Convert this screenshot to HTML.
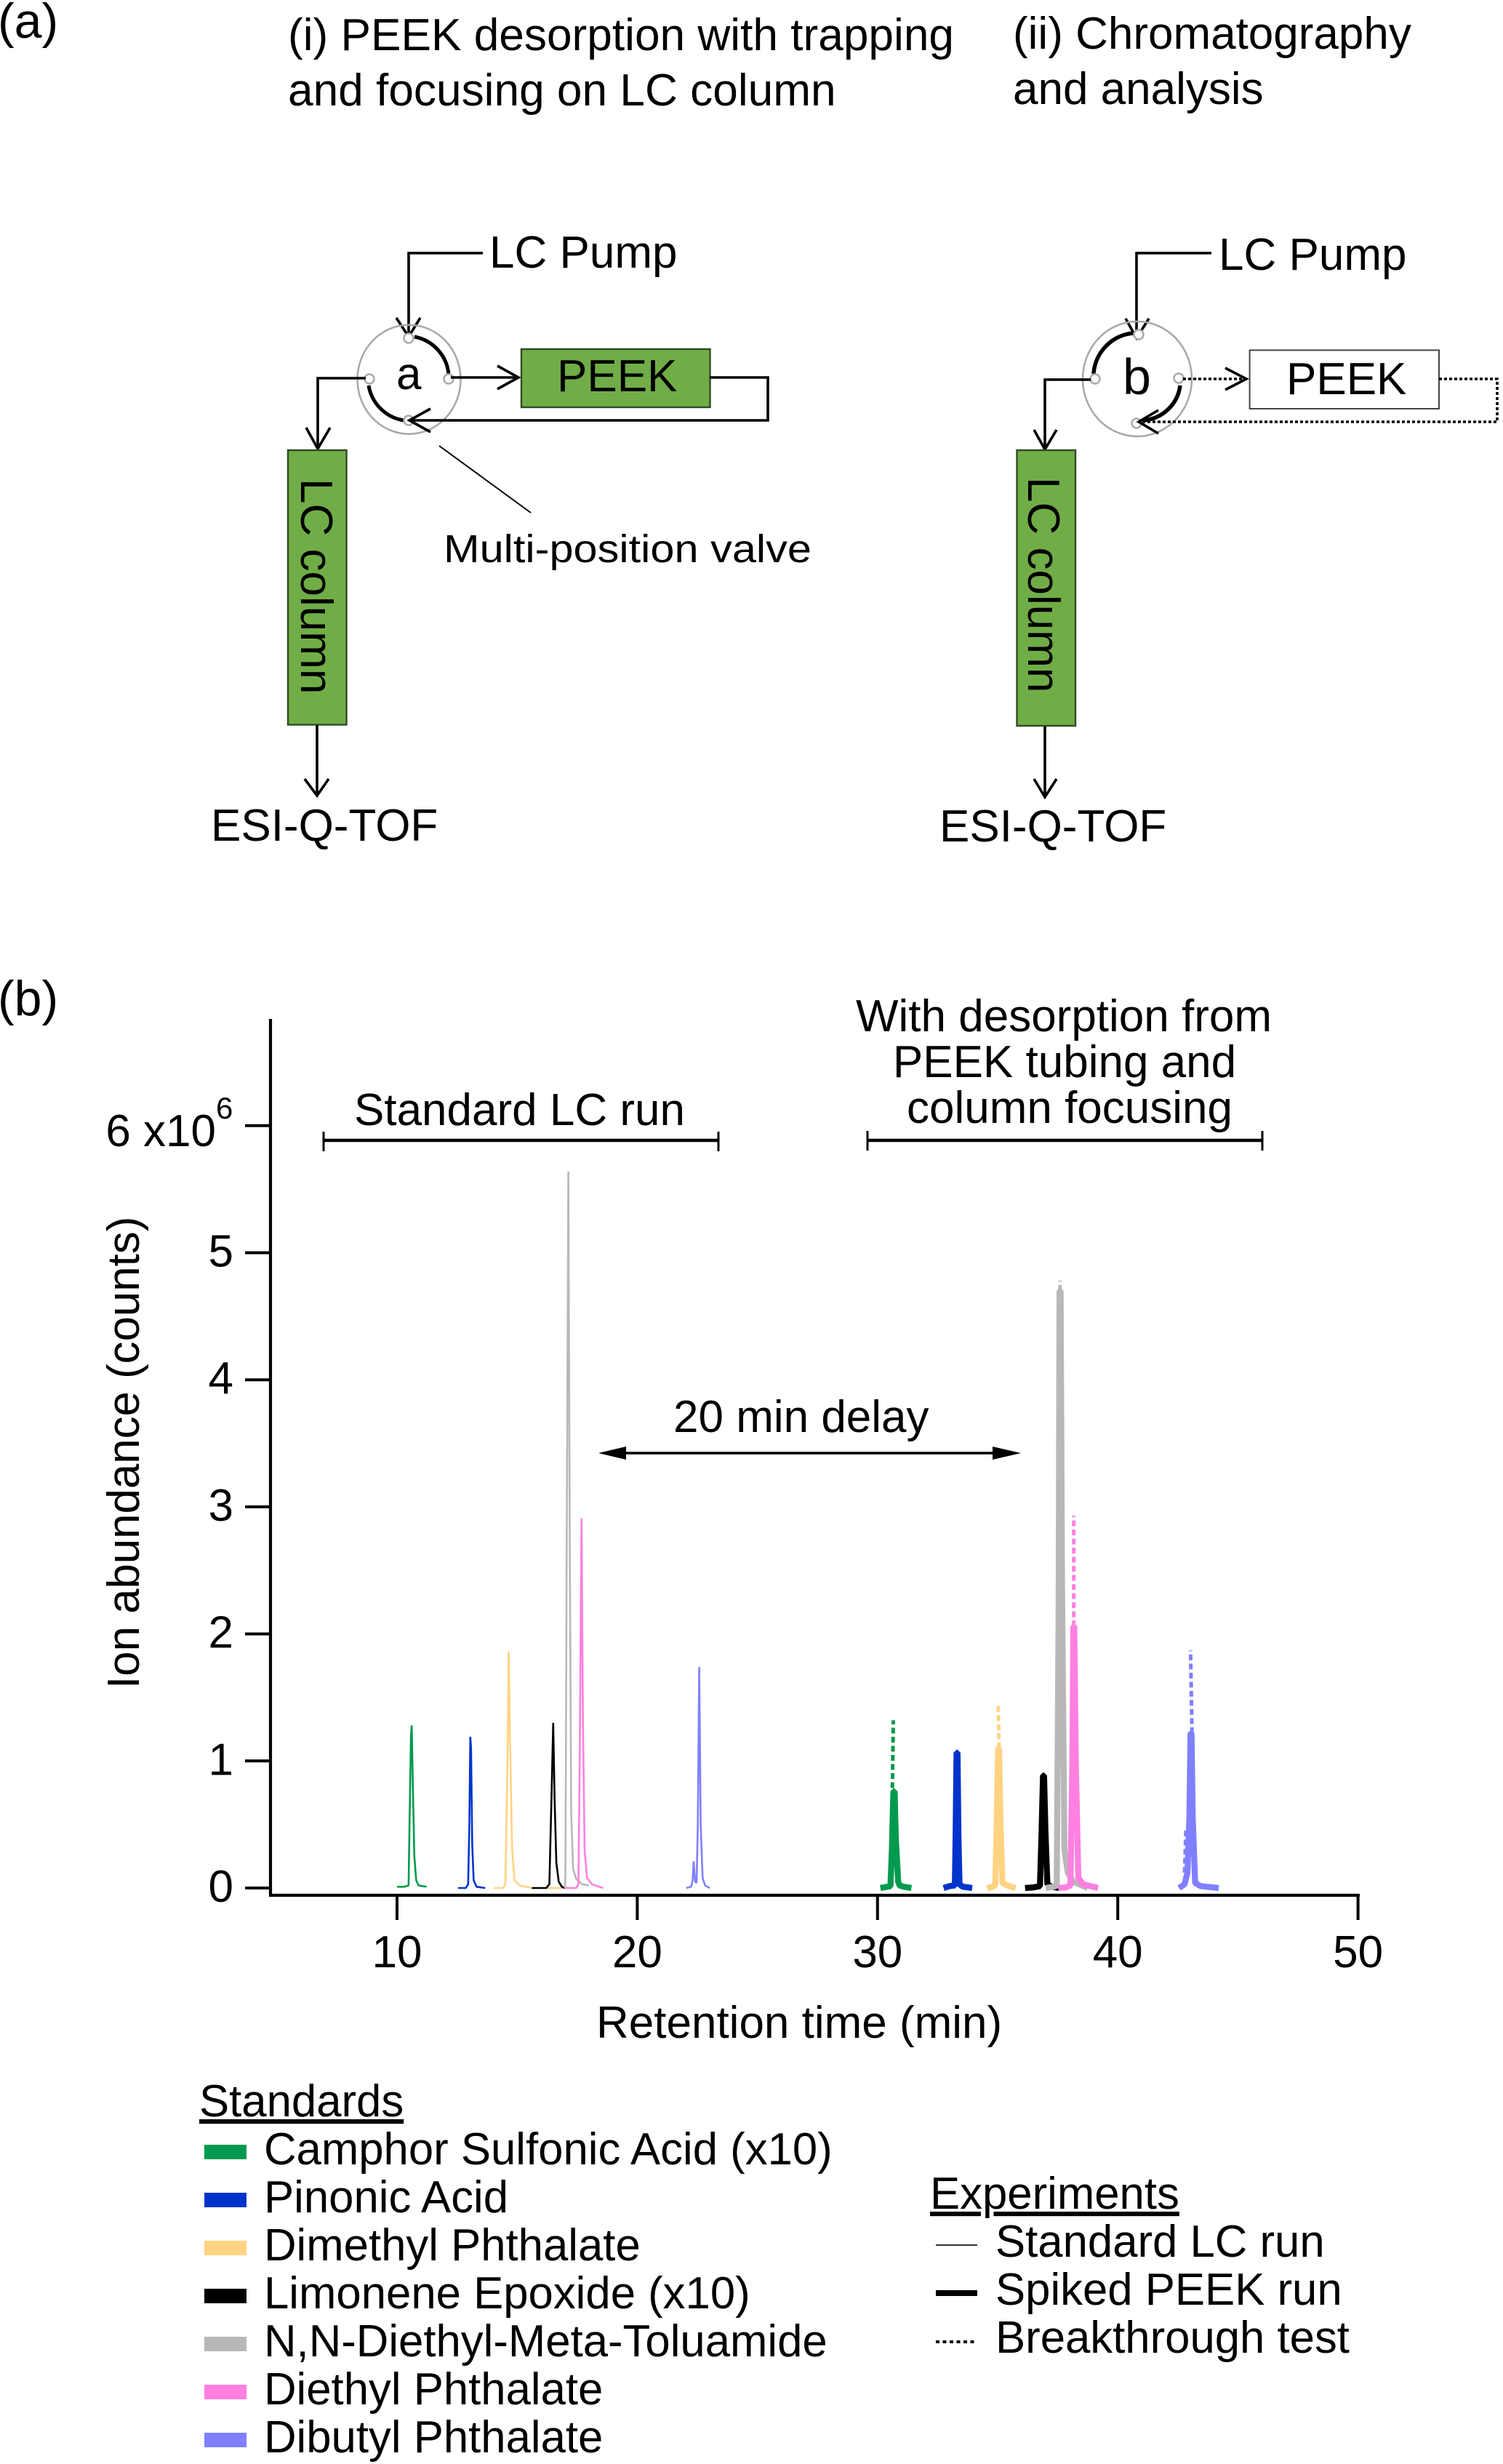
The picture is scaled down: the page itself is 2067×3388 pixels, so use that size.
<!DOCTYPE html>
<html lang="en">
<head>
<meta charset="utf-8">
<title>PEEK desorption and chromatography</title>
<style>
html,body{margin:0;padding:0;background:#fff;width:2067px;height:3388px;overflow:hidden}
svg{display:block}
text{font-family:"Liberation Sans",Arial,sans-serif;font-size:62px;fill:#000}
#legend-standards text,#legend-experiments text{font-size:61.7px}
</style>
</head>
<body>
<svg id="fig" xmlns="http://www.w3.org/2000/svg" width="2067" height="3388" viewBox="0 0 2067 3388">
<rect x="0" y="0" width="2067" height="3388" fill="#fff"/>

<g id="panel-a" fill="none" stroke="#000" stroke-width="3.6">
  <text x="-3" y="52" stroke="none" style="font-size:68px">(a)</text>
  <text x="396" y="69" stroke="none" style="font-size:62.2px">(i) PEEK desorption with trapping</text>
  <text x="396" y="145" stroke="none" style="font-size:62.2px">and focusing on LC column</text>
  <text x="1393" y="67" stroke="none">(ii) Chromatography</text>
  <text x="1393" y="143" stroke="none">and analysis</text>

  <!-- left valve diagram -->
  <g>
    <text x="673" y="368" stroke="none">LC Pump</text>
    <polyline points="664,348 562,348 562,463"/>
    <polyline points="545,437 562,463 578,437"/>
    <ellipse cx="562.5" cy="521.7" rx="71" ry="75" stroke="#a8a8a8" stroke-width="2.5"/>
    <path d="M570 463 A58 58 0 0 1 617 515" stroke-width="5"/>
    <path d="M507 530 A58 58 0 0 0 555 578" stroke-width="5"/>
    <g fill="#fff" stroke="#aaa" stroke-width="2.5">
      <circle cx="562" cy="465" r="6.5"/><circle cx="617" cy="521" r="6.5"/><circle cx="508" cy="521" r="6.5"/><circle cx="562" cy="578" r="6.5"/>
    </g>
    <text x="545" y="535" stroke="none">a</text>
    <polyline points="620,519 713,519"/>
    <polyline points="684,503 713,519 684,535"/>
    <rect x="717" y="480" width="259.5" height="80" fill="#70ad47" stroke="#2f4a20" stroke-width="2.4"/>
    <text x="766" y="538" stroke="none">PEEK</text>
    <polyline points="976,519 1056,519 1056,578 563,578"/>
    <polyline points="592,562 563,578 592,594"/>
    <polyline points="503,520 437,520 437,617"/>
    <polyline points="421,588 437,617 454,588"/>
    <rect x="396" y="619" width="80.5" height="377.5" fill="#70ad47" stroke="#2f4a20" stroke-width="2.4"/>
    <text transform="translate(414,658) rotate(90)" stroke="none">LC column</text>
    <polyline points="436,997 436,1094"/>
    <polyline points="419,1071 436,1094 452,1071"/>
    <text x="290" y="1156" stroke="none">ESI-Q-TOF</text>
    <line x1="604" y1="613" x2="730" y2="705" stroke-width="2"/>
    <text x="610" y="773" stroke="none" style="font-size:54px" textLength="506" lengthAdjust="spacingAndGlyphs">Multi-position valve</text>
  </g>

  <!-- right valve diagram -->
  <g>
    <text x="1676" y="371" stroke="none">LC Pump</text>
    <polyline points="1666,348 1563,348 1563,465"/>
    <polyline points="1548,438 1563,465 1580,438"/>
    <ellipse cx="1564" cy="521" rx="75" ry="79" stroke="#a8a8a8" stroke-width="2.5"/>
    <path d="M1504 514 A60 60 0 0 1 1559 458" stroke-width="5.5"/>
    <path d="M1623 530 A55 55 0 0 1 1572 578" stroke-width="5.5"/>
    <g fill="#fff" stroke="#aaa" stroke-width="2.5">
      <circle cx="1566" cy="460" r="6.5"/><circle cx="1621" cy="520" r="6.5"/><circle cx="1506" cy="521" r="6.5"/><circle cx="1563" cy="582" r="6.5"/>
    </g>
    <text x="1544" y="542" stroke="none" style="font-size:70px">b</text>
    <polyline points="1627,521 1712,521" stroke-dasharray="4 3"/>
    <polyline points="1685,506 1714,521 1685,536"/>
    <rect x="1718.6" y="481.5" width="260.4" height="80.5" fill="#fff" stroke="#444" stroke-width="2"/>
    <text x="1769" y="542" stroke="none">PEEK</text>
    <polyline points="1979,521 2059,521 2059,580 1568,580" stroke-dasharray="4 3"/>
    <polyline points="1593,564 1566,580 1593,596"/>
    <polyline points="1500,522 1437,522 1437,618"/>
    <polyline points="1422,591 1437,618 1453,591"/>
    <rect x="1398.5" y="619" width="80.5" height="379" fill="#70ad47" stroke="#2f4a20" stroke-width="2.4"/>
    <text transform="translate(1414,656) rotate(90)" stroke="none">LC column</text>
    <polyline points="1437,999 1437,1096"/>
    <polyline points="1422,1071 1437,1096 1453,1071"/>
    <text x="1292" y="1157" stroke="none">ESI-Q-TOF</text>
  </g>
</g>

<g id="panel-b">
  <text x="-3" y="1396" style="font-size:68px">(b)</text>
  <g id="traces"></g>
  <g id="axes" stroke="#000" stroke-width="4.2" fill="none">
    <line x1="372" y1="1401" x2="372" y2="2608"/>
    <line x1="370" y1="2606" x2="1870" y2="2606"/>
  </g>
  <g id="ticks"></g>
  <text x="820" y="2802">Retention time (min)</text>
  <text transform="translate(191,2322) rotate(-90)" style="font-size:61.8px">Ion abundance (counts)</text>
  <text x="297" y="1538" style="font-size:42px">6</text>

  <g stroke="#000" fill="none">
    <line x1="445" y1="1568" x2="988" y2="1568" stroke-width="4.5"/>
    <line x1="445" y1="1556" x2="445" y2="1583" stroke-width="3"/>
    <line x1="988" y1="1556" x2="988" y2="1583" stroke-width="3"/>
  </g>
  <text x="487" y="1547">Standard LC run</text>

  <g stroke="#000" fill="none">
    <line x1="1193" y1="1568" x2="1736" y2="1568" stroke-width="4.5"/>
    <line x1="1193" y1="1555" x2="1193" y2="1582" stroke-width="3"/>
    <line x1="1736" y1="1555" x2="1736" y2="1582" stroke-width="3"/>
  </g>
  <text x="1463" y="1418" text-anchor="middle">With desorption from</text>
  <text x="1464" y="1481" text-anchor="middle">PEEK tubing and</text>
  <text x="1471" y="1544" text-anchor="middle">column focusing</text>

  <g>
    <line x1="855" y1="1998" x2="1370" y2="1998" stroke="#000" stroke-width="3.5"/>
    <polygon points="823,1998 861,1989 861,2007" fill="#000"/>
    <polygon points="1404,1998 1365,1989 1365,2007" fill="#000"/>
  </g>
  <text x="926" y="1969">20 min delay</text>

  <g id="legend-standards">
    <text x="274" y="2910" text-decoration="underline">Standards</text>
    <rect x="281" y="2949" width="58" height="20" fill="#009a4e"/>
    <text x="363" y="2976">Camphor Sulfonic Acid (x10)</text>
    <rect x="281" y="3015" width="58" height="20" fill="#0033cc"/>
    <text x="363" y="3042">Pinonic Acid</text>
    <rect x="281" y="3081" width="58" height="20" fill="#ffd382"/>
    <text x="363" y="3108">Dimethyl Phthalate</text>
    <rect x="281" y="3147" width="58" height="20" fill="#000"/>
    <text x="363" y="3174">Limonene Epoxide (x10)</text>
    <rect x="281" y="3213" width="58" height="20" fill="#b8b8b8"/>
    <text x="363" y="3240">N,N-Diethyl-Meta-Toluamide</text>
    <rect x="281" y="3279" width="58" height="20" fill="#ff80e0"/>
    <text x="363" y="3306">Diethyl Phthalate</text>
    <rect x="281" y="3345" width="58" height="20" fill="#8080ff"/>
    <text x="363" y="3372">Dibutyl Phthalate</text>
  </g>
  <g id="legend-experiments">
    <text x="1279" y="3037" text-decoration="underline">Experiments</text>
    <line x1="1287" y1="3087" x2="1344" y2="3087" stroke="#333" stroke-width="2"/>
    <text x="1369" y="3103">Standard LC run</text>
    <line x1="1287" y1="3153" x2="1344" y2="3153" stroke="#000" stroke-width="8"/>
    <text x="1369" y="3169">Spiked PEEK run</text>
    <line x1="1287" y1="3220" x2="1344" y2="3220" stroke="#000" stroke-width="4" stroke-dasharray="5 4.5"/>
    <text x="1369" y="3235">Breakthrough test</text>
  </g>
</g>
</svg>

<script>
// Axis tick values and labels
const xTicks = [10, 20, 30, 40, 50];
const yTicks = [0, 1, 2, 3, 4, 5, 6];
const yTickLabels = ['0', '1', '2', '3', '4', '5', '6 x10'];

// Standard LC run: retention time (min) and abundance (x10^6 counts)
const camphorStdT = [10.0, 10.3, 10.48, 10.52, 10.58, 10.61, 10.66, 10.72, 10.8, 10.9, 11.23];
const camphorStdV = [0.01, 0.01, 0.02, 0.5, 1.2, 1.28, 0.8, 0.25, 0.06, 0.02, 0.01];
const pinonicStdT = [12.54, 12.86, 12.96, 13.01, 13.05, 13.08, 13.13, 13.19, 13.31, 13.67];
const pinonicStdV = [0.0, 0.0, 0.03, 0.5, 1.19, 1.1, 0.35, 0.06, 0.01, 0.0];
const dimethylStdT = [14.03, 14.41, 14.51, 14.59, 14.65, 14.71, 14.79, 14.89, 15.11, 15.61, 16.98];
const dimethylStdV = [0.0, 0.0, 0.03, 0.9, 1.86, 1.1, 0.3, 0.06, 0.02, 0.0, 0.0];
const limoneneStdT = [15.61, 16.21, 16.34, 16.43, 16.5, 16.56, 16.63, 16.73, 16.86, 16.98];
const limoneneStdV = [0.0, 0.0, 0.03, 0.7, 1.3, 0.7, 0.2, 0.05, 0.01, 0.0];
const deetStdT = [16.99, 17.01, 17.06, 17.13, 17.19, 17.25, 17.33, 17.46, 17.71, 17.99];
const deetStdV = [0.0, 0.1, 2.6, 5.64, 2.7, 0.6, 0.15, 0.07, 0.03, 0.02];
const diethylStdT = [16.98, 17.46, 17.55, 17.61, 17.68, 17.74, 17.81, 17.91, 18.11, 18.58];
const diethylStdV = [0.0, 0.0, 0.03, 1.1, 2.91, 1.3, 0.3, 0.08, 0.03, 0.0];
const dibutylStdT = [22.04, 22.24, 22.3, 22.35, 22.41, 22.47, 22.52, 22.58, 22.64, 22.72, 22.82, 23.02];
const dibutylStdV = [0.0, 0.01, 0.05, 0.21, 0.05, 0.04, 0.5, 1.74, 0.5, 0.08, 0.02, 0.0];

// Spiked PEEK run
const camphorSpkT = [30.12, 30.4, 30.54, 30.6, 30.66, 30.71, 30.76, 30.86, 30.92, 31.1, 31.41];
const camphorSpkV = [0.0, 0.01, 0.015, 0.3, 0.76, 0.76, 0.4, 0.05, 0.02, 0.01, 0.0];
const pinonicSpkT = [32.75, 33.0, 33.22, 33.25, 33.29, 33.33, 33.37, 33.41, 33.55, 33.94];
const pinonicSpkV = [0.0, 0.015, 0.02, 0.4, 1.065, 1.065, 0.4, 0.03, 0.01, 0.0];
const dimethylSpkT = [34.56, 34.8, 34.9, 34.96, 35.02, 35.06, 35.12, 35.2, 35.4, 35.75];
const dimethylSpkV = [0.0, 0.01, 0.02, 0.5, 1.1, 1.1, 0.5, 0.04, 0.02, 0.0];
const limoneneSpkT = [36.14, 36.5, 36.76, 36.83, 36.89, 36.93, 36.99, 37.07, 37.25, 37.58];
const limoneneSpkV = [0.0, 0.005, 0.015, 0.45, 0.885, 0.885, 0.45, 0.03, 0.01, 0.0];
const deetSpkT = [37.0, 37.33, 37.46, 37.54, 37.58, 37.62, 37.68, 37.78, 37.92, 38.15, 38.75];
const deetSpkV = [0.0, 0.01, 0.02, 2.2, 4.7, 4.7, 2.4, 0.3, 0.12, 0.05, 0.0];
const diethylSpkT = [37.52, 37.85, 38.03, 38.11, 38.15, 38.19, 38.25, 38.36, 38.55, 39.18];
const diethylSpkV = [0.0, 0.005, 0.02, 1.0, 2.06, 2.06, 1.0, 0.08, 0.03, 0.0];
const dibutylSpkT = [42.55, 42.78, 42.9, 42.98, 43.03, 43.07, 43.12, 43.22, 43.45, 44.2];
const dibutylSpkV = [0.0, 0.03, 0.12, 0.55, 1.22, 1.22, 0.55, 0.04, 0.015, 0.0];

// Breakthrough test (rising edge, visible above the spiked run)
const camphorBrkT = [30.53, 30.6, 30.66];
const camphorBrkV = [0.0, 0.55, 1.32];
const dimethylBrkT = [35.06, 35.02];
const dimethylBrkV = [1.1, 1.45];
const deetBrkT = [37.6, 37.6];
const deetBrkV = [4.7, 4.78];
const diethylBrkT = [38.17, 38.17];
const diethylBrkV = [2.06, 2.93];
const dibutylBrkT = [43.09, 43.03];
const dibutylBrkV = [1.22, 1.87];
const dibutylShoulderT = [42.78, 42.84];
const dibutylShoulderV = [0.12, 0.47];

const compoundColors = {camphor:'#009a4e', pinonic:'#0033cc', dimethyl:'#ffd382', limonene:'#000000', deet:'#b8b8b8', diethyl:'#ff80e0', dibutyl:'#8080ff'};

function xScale(t) { return 546 + (t - 10) * 33.04; }
function yScale(v) { return 2596 - v * 174.7; }

const SVG_NS = 'http://www.w3.org/2000/svg';
const tracesLayer = document.getElementById('traces');
const ticksLayer = document.getElementById('ticks');

function drawTrace(ts, vs, compound, kind, name) {
  const el = document.createElementNS(SVG_NS, 'polyline');
  el.setAttribute('points', ts.map(function (t, i) { return xScale(t).toFixed(1) + ',' + yScale(vs[i]).toFixed(1); }).join(' '));
  el.setAttribute('fill', 'none');
  el.setAttribute('stroke', compoundColors[compound]);
  el.setAttribute('stroke-linejoin', 'bevel');
  if (kind === 'standard') {
    el.setAttribute('stroke-width', '2.6');
  } else if (kind === 'spiked') {
    el.setAttribute('stroke-width', '8.3');
  } else {
    el.setAttribute('stroke-width', '5');
    el.setAttribute('stroke-dasharray', '8 4.5');
  }
  
  
  tracesLayer.appendChild(el);
}

drawTrace(dimethylStdT, dimethylStdV, 'dimethyl', 'standard', 'dimethyl-standard-trace');
drawTrace(camphorStdT, camphorStdV, 'camphor', 'standard', 'camphor-standard-trace');
drawTrace(pinonicStdT, pinonicStdV, 'pinonic', 'standard', 'pinonic-standard-trace');
drawTrace(limoneneStdT, limoneneStdV, 'limonene', 'standard', 'limonene-standard-trace');
drawTrace(deetStdT, deetStdV, 'deet', 'standard', 'deet-standard-trace');
drawTrace(diethylStdT, diethylStdV, 'diethyl', 'standard', 'diethyl-standard-trace');
drawTrace(dibutylStdT, dibutylStdV, 'dibutyl', 'standard', 'dibutyl-standard-trace');

drawTrace(camphorBrkT, camphorBrkV, 'camphor', 'breakthrough', 'camphor-breakthrough-trace');
drawTrace(dimethylBrkT, dimethylBrkV, 'dimethyl', 'breakthrough', 'dimethyl-breakthrough-trace');
drawTrace(deetBrkT, deetBrkV, 'deet', 'breakthrough', 'deet-breakthrough-trace');
drawTrace(diethylBrkT, diethylBrkV, 'diethyl', 'breakthrough', 'diethyl-breakthrough-trace');
drawTrace(dibutylBrkT, dibutylBrkV, 'dibutyl', 'breakthrough', 'dibutyl-breakthrough-trace');

drawTrace(camphorSpkT, camphorSpkV, 'camphor', 'spiked', 'camphor-spiked-trace');
drawTrace(pinonicSpkT, pinonicSpkV, 'pinonic', 'spiked', 'pinonic-spiked-trace');
drawTrace(dimethylSpkT, dimethylSpkV, 'dimethyl', 'spiked', 'dimethyl-spiked-trace');
drawTrace(limoneneSpkT, limoneneSpkV, 'limonene', 'spiked', 'limonene-spiked-trace');
drawTrace(deetSpkT, deetSpkV, 'deet', 'spiked', 'deet-spiked-trace');
drawTrace(diethylSpkT, diethylSpkV, 'diethyl', 'spiked', 'diethyl-spiked-trace');
drawTrace(dibutylSpkT, dibutylSpkV, 'dibutyl', 'spiked', 'dibutyl-spiked-trace');
drawTrace(dibutylShoulderT, dibutylShoulderV, 'dibutyl', 'breakthrough', 'dibutyl-breakthrough-shoulder');

xTicks.forEach(function (t) {
  const tick = document.createElementNS(SVG_NS, 'line');
  tick.setAttribute('x1', xScale(t));
  tick.setAttribute('x2', xScale(t));
  tick.setAttribute('y1', 2606);
  tick.setAttribute('y2', 2640);
  tick.setAttribute('stroke', '#000');
  tick.setAttribute('stroke-width', '4');
  
  
  ticksLayer.appendChild(tick);
  const label = document.createElementNS(SVG_NS, 'text');
  label.setAttribute('x', xScale(t));
  label.setAttribute('y', 2705);
  label.setAttribute('text-anchor', 'middle');
  
  
  label.textContent = String(t);
  ticksLayer.appendChild(label);
});

yTicks.forEach(function (v, i) {
  const tick = document.createElementNS(SVG_NS, 'line');
  tick.setAttribute('x1', 337);
  tick.setAttribute('x2', 372);
  tick.setAttribute('y1', yScale(v));
  tick.setAttribute('y2', yScale(v));
  tick.setAttribute('stroke', '#000');
  tick.setAttribute('stroke-width', '4');
  
  
  ticksLayer.appendChild(tick);
  const label = document.createElementNS(SVG_NS, 'text');
  const isTop = i === yTicks.length - 1;
  label.setAttribute('x', isTop ? 297 : 321);
  label.setAttribute('y', yScale(v) + (isTop ? 28 : 19));
  label.setAttribute('text-anchor', 'end');
  
  
  label.textContent = yTickLabels[i];
  ticksLayer.appendChild(label);
});
</script>
</body>
</html>
